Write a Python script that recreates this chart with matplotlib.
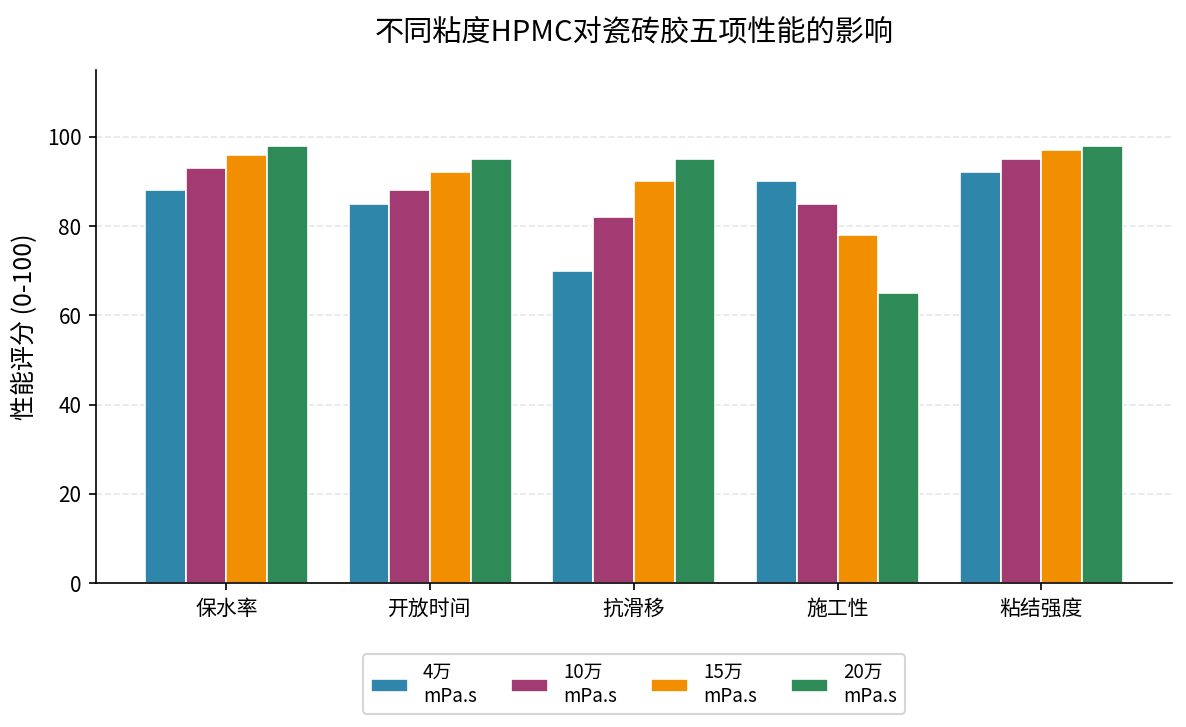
import numpy as np
import matplotlib
matplotlib.use('Agg')
import matplotlib.pyplot as plt

plt.rcParams['font.family'] = ['Noto Sans CJK SC', 'DejaVu Sans']
plt.rcParams['axes.unicode_minus'] = False

# Data
categories = ['保水率', '开放时间', '抗滑移', '施工性', '粘结强度']
series_names = ['4万\nmPa.s', '10万\nmPa.s', '15万\nmPa.s', '20万\nmPa.s']
v_4w = [88, 85, 70, 90, 92]
v_10w = [93, 88, 82, 85, 95]
v_15w = [96, 92, 90, 78, 97]
v_20w = [98, 95, 95, 65, 98]
colors = ['#2E86AB', '#A23B72', '#F18F01', '#2E8B57']

fig, ax = plt.subplots(figsize=(1186 / 150, 727 / 150), dpi=150)

x = np.arange(len(categories))
width = 0.2
all_vals = [v_4w, v_10w, v_15w, v_20w]
for i, (vals, name, c) in enumerate(zip(all_vals, series_names, colors)):
    ax.bar(x + (i - 1.5) * width, vals, width, label=name, color=c,
           edgecolor='white', linewidth=0.8)

ax.set_xticks(x)
ax.set_xticklabels(categories, fontsize=10)
ax.tick_params(axis='y', labelsize=10)
ax.set_ylim(0, 115)
ax.set_ylabel('性能评分 (0-100)', fontsize=12)
ax.set_title('不同粘度HPMC对瓷砖胶五项性能的影响', fontsize=14, pad=14)
ax.grid(axis='y', linestyle='--', alpha=0.3)
ax.set_axisbelow(True)
ax.spines['top'].set_visible(False)
ax.spines['right'].set_visible(False)

ax.legend(loc='upper center', bbox_to_anchor=(0.5, -0.12), ncol=4,
          fontsize=9, frameon=True, columnspacing=1.8)

plt.subplots_adjust(left=0.081, right=0.988, top=0.904, bottom=0.198)
plt.savefig('out.png', dpi=150)
